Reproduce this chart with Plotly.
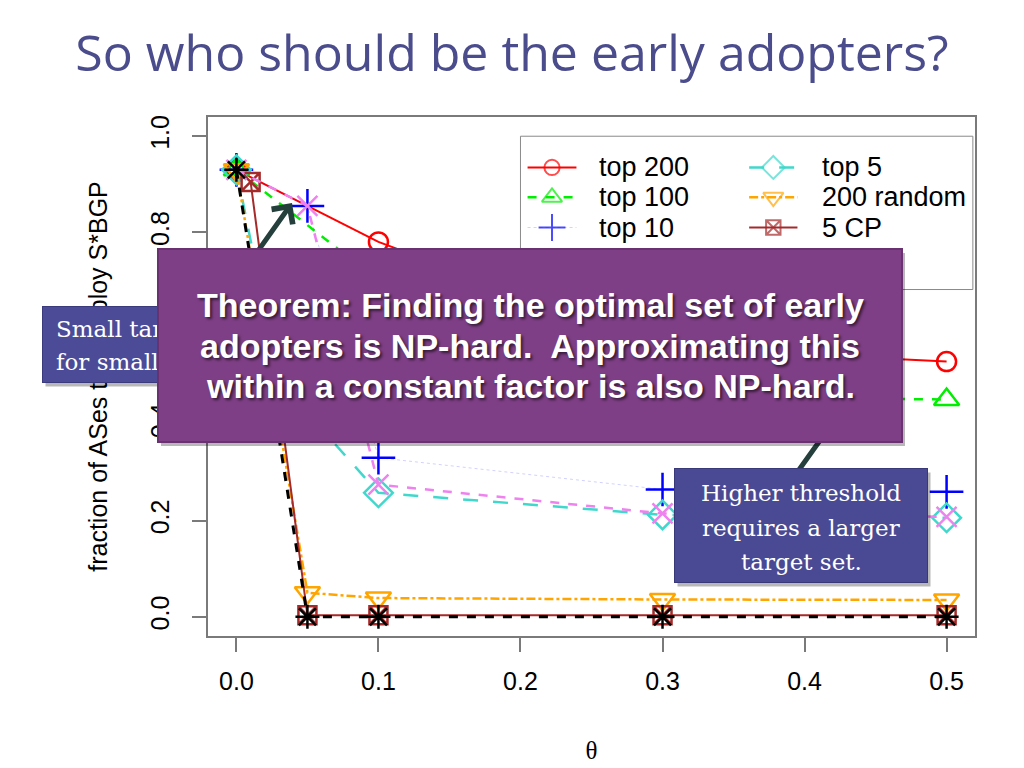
import plotly.graph_objects as go

# ---------------- data ----------------
theta_top200 = [0.0, 0.1, 0.3, 0.5]
top200 = [0.93, 0.78, 0.56, 0.531]

theta_top100 = [0.0, 0.1, 0.3, 0.5]
top100 = [0.93, 0.70, 0.46, 0.452]

theta_top10 = [0.0, 0.05, 0.1, 0.3, 0.5]
top10 = [0.93, 0.855, 0.331, 0.265, 0.26]

theta_top5 = [0.0, 0.03, 0.1, 0.3, 0.5]
top5 = [0.93, 0.49, 0.258, 0.212, 0.206]

theta_random = [0.0, 0.05, 0.1, 0.3, 0.5]
random200 = [0.93, 0.05, 0.039, 0.036, 0.035]

theta_cp = [0.01, 0.05, 0.1, 0.3, 0.5]
cp5 = [0.905, 0.003, 0.003, 0.003, 0.003]

theta_cp_top5 = [0.0, 0.05, 0.1, 0.3, 0.5]
cp_top5 = [0.93, 0.855, 0.275, 0.215, 0.208]

theta_none = [0.0, 0.05, 0.1, 0.3, 0.5]
none = [0.93, 0.0, 0.0, 0.0, 0.0]

x_ticks = [0.0, 0.1, 0.2, 0.3, 0.4, 0.5]
x_tick_labels = ["0.0", "0.1", "0.2", "0.3", "0.4", "0.5"]
y_ticks = [0.0, 0.2, 0.4, 0.6, 0.8, 1.0]
y_tick_labels = ["0.0", "0.2", "0.4", "0.6", "0.8", "1.0"]

legend_names = ["top 200", "top 100", "top 10", "5 CP + top 5",
                "top 5", "200 random", "5 CP", "none"]

title_text = "So who should be the early adopters?"
x_title = "θ"
y_title = "fraction of ASes that deploy S*BGP"
theorem_lines = ["Theorem: Finding the optimal set of early",
                 "adopters is NP-hard.&nbsp; Approximating this",
                 "within a constant factor is also NP-hard."]
small_lines = ["Small target sets suffice", "for small thresholds."]
higher_lines = ["Higher threshold", "requires a larger", "target set."]

# ---------------- layout geometry ----------------
W, H = 1024, 768
ML, MR, MT, MB = 208, 49, 117, 132
X_RANGE = [-0.02, 0.52]
Y_RANGE = [-0.04, 1.04]


def pxx(xp):
    return (xp - ML) / (W - ML - MR)


def pxy(yp):
    return (H - MB - yp) / (H - MT - MB)


SANS = "Liberation Sans, Arial, sans-serif"
SERIF = "DejaVu Serif, serif"

series = [
    dict(x=theta_top200, y=top200, name=legend_names[0], color="#ff0000",
         dash="solid", width=2, symbol="circle-open", size=19),
    dict(x=theta_top100, y=top100, name=legend_names[1], color="#00ee00",
         dash="dash", width=2.5, symbol="triangle-up-open", size=22),
    dict(x=theta_top10, y=top10, name=legend_names[2], color="rgba(0,0,255,0.18)",
         mcolor="#0000ff", dash="dot", width=1, symbol="cross-thin-open", size=24),
    dict(x=theta_top5, y=top5, name=legend_names[4], color="#40d8cc",
         dash="longdash", width=2.5, symbol="diamond-open", size=22),
    dict(x=theta_random, y=random200, name=legend_names[5], color="#ffa500",
         dash="dashdot", width=2.5, symbol="triangle-down-open", size=22),
    dict(x=theta_cp, y=cp5, name=legend_names[6], color="#a52a2a",
         dash="solid", width=2, symbol="square-x-open", size=18),
    dict(x=theta_cp_top5, y=cp_top5, name=legend_names[3], color="#ee82ee",
         dash="dash", width=2.5, symbol="x-thin-open", size=20),
    dict(x=theta_none, y=none, name=legend_names[7], color="#000000",
         dash="dash", width=3, symbol="asterisk-open", size=20),
]

fig = go.Figure()
for s in series:
    fig.add_trace(go.Scatter(
        x=s["x"], y=s["y"], name=s["name"], mode="lines+markers",
        line=dict(color=s["color"], dash=s["dash"], width=s["width"]),
        marker=dict(symbol=s["symbol"], size=s["size"],
                    color=s.get("mcolor", s["color"]),
                    line=dict(color=s.get("mcolor", s["color"]), width=2.5)),
        showlegend=False, hoverinfo="skip"))

# ---------------- hand-built R-style legend (two columns) ----------------
leg_col_x = [(0.205, 0.2222, 0.2394), (0.361, 0.378, 0.395)]
leg_text_x = [0.2542, 0.4106]
leg_row_y = [0.935, 0.873, 0.810, 0.740]
leg_slots = {legend_names[0]: (0, 0), legend_names[1]: (0, 1), legend_names[2]: (0, 2),
             legend_names[3]: (0, 3), legend_names[4]: (1, 0), legend_names[5]: (1, 1),
             legend_names[6]: (1, 2), legend_names[7]: (1, 3)}
annotations = []
for s in series:
    c, r = leg_slots[s["name"]]
    xs = list(leg_col_x[c])
    yv = leg_row_y[r]
    fig.add_trace(go.Scatter(
        x=xs, y=[yv, yv, yv], mode="lines+markers",
        line=dict(color=s["color"], dash=s["dash"], width=s["width"]),
        marker=dict(symbol=s["symbol"], size=[0, s["size"] * 0.8, 0],
                    color=s.get("mcolor", s["color"]),
                    line=dict(color=s.get("mcolor", s["color"]), width=2)),
        showlegend=False, hoverinfo="skip"))
    annotations.append(dict(
        x=leg_text_x[c], y=yv, xref="x", yref="y", text=s["name"],
        showarrow=False, xanchor="left", yanchor="middle",
        font=dict(family=SANS, size=27, color="black")))

shapes = [dict(type="rect", xref="x", yref="y", x0=0.2, x1=0.5185, y0=0.681, y1=1.0,
               line=dict(color="#8a8a8a", width=1), layer="above")]

# ---------------- slide call-outs ----------------
ARROW = "#243f3c"
annotations.append(dict(x=pxx(292), y=pxy(203), xref="paper", yref="paper",
                        ax=-44, ay=62, text="", showarrow=True, arrowhead=4,
                        arrowsize=1.0, arrowwidth=5, arrowcolor=ARROW, standoff=0))
annotations.append(dict(x=pxx(836), y=pxy(418), xref="paper", yref="paper",
                        ax=-40, ay=56, text="", showarrow=True, arrowhead=0,
                        arrowwidth=5, arrowcolor=ARROW, standoff=0))


def box(x0, y0, x1, y1, fill, border, bw=1, shadow=True):
    out = []
    if shadow:
        out.append(dict(x=pxx(x0 + 3), y=pxy(y0 + 4), xref="paper", yref="paper",
                        xanchor="left", yanchor="top", showarrow=False, text=" ",
                        width=x1 - x0 - 2 * bw, height=y1 - y0 - 2 * bw,
                        bgcolor="rgba(0,0,0,0.28)", borderwidth=bw,
                        bordercolor="rgba(0,0,0,0)", borderpad=0))
    out.append(dict(x=pxx(x0), y=pxy(y0), xref="paper", yref="paper",
                    xanchor="left", yanchor="top", showarrow=False, text=" ",
                    width=x1 - x0 - 2 * bw, height=y1 - y0 - 2 * bw,
                    bgcolor=fill, bordercolor=border, borderwidth=bw, borderpad=0))
    return out


# small (mostly hidden) call-out on the left; its text is clipped at the
# edge of the theorem box that sits on top of it
annotations += box(42, 306, 160, 383, "#4b4b98", "#3a3a7c")
for i, t in enumerate(small_lines):
    annotations.append(dict(x=pxx(55), y=pxy(329 + 33 * i), xref="paper", yref="paper",
                            xanchor="left", yanchor="middle", showarrow=False, text=t,
                            width=101, align="left", borderpad=0,
                            font=dict(family=SERIF, size=23, color="white")))

# theorem box
annotations += box(157, 248, 903, 443, "#7f3f86", "#6a3170", bw=2)
for i, t in enumerate(theorem_lines):
    annotations.append(dict(x=pxx(530), y=pxy(305 + 40.5 * i), xref="paper", yref="paper",
                            xanchor="center", yanchor="middle", showarrow=False, text=t,
                            font=dict(family=SANS, size=34, color="white", weight="bold",
                                      shadow="2px 2px 3px rgba(0,0,0,0.6)")))

# higher threshold box
annotations += box(674, 468, 928, 583, "#4a4a94", "#39397a")
for i, t in enumerate(higher_lines):
    annotations.append(dict(x=pxx(801), y=pxy(493 + 34.5 * i), xref="paper", yref="paper",
                            xanchor="center", yanchor="middle", showarrow=False, text=t,
                            font=dict(family=SERIF, size=23, color="white")))

AX = "#7a7a7a"
fig.update_layout(
    width=W, height=H, autosize=False,
    margin=dict(l=ML, r=MR, t=MT, b=MB, pad=0),
    paper_bgcolor="white", plot_bgcolor="white",
    title=dict(text=title_text, x=0.5, xanchor="center", xref="container",
               y=1 - 53 / H, yref="container", yanchor="middle",
               font=dict(family="Open Sans, sans-serif", size=50, color="#4b4c8c")),
    xaxis=dict(range=X_RANGE, tickvals=x_ticks, ticktext=x_tick_labels,
               automargin=False,
               showgrid=False, zeroline=False, showline=True, mirror=True,
               linecolor=AX, linewidth=1.5, ticks="outside", ticklen=14,
               tickwidth=1.5, tickcolor=AX, ticklabelstandoff=8,
               tickfont=dict(family=SANS, size=25, color="black"),
               title=dict(text=x_title, standoff=48,
                          font=dict(family="Liberation Serif, serif", size=25, color="black"))),
    yaxis=dict(range=Y_RANGE, tickvals=y_ticks, ticktext=y_tick_labels, tickangle=-90,
               automargin=False,
               showgrid=False, zeroline=False, showline=True, mirror=True,
               linecolor=AX, linewidth=1.5, ticks="outside", ticklen=14,
               tickwidth=1.5, tickcolor=AX, ticklabelstandoff=13,
               tickfont=dict(family=SANS, size=25, color="black"),
               title=dict(text=y_title, standoff=32,
                          font=dict(family=SANS, size=25, color="black"))),
    shapes=shapes,
    annotations=annotations,
)

fig.write_html("out.html", config={"displayModeBar": False},
               post_script="document.body.style.margin='0';document.body.style.overflow='hidden';")
